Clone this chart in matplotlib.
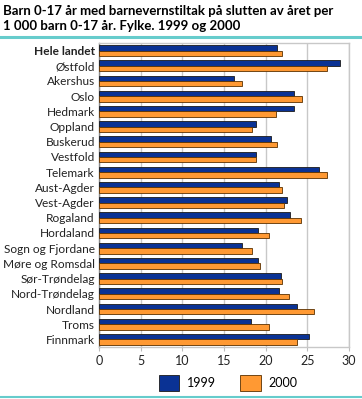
import matplotlib
matplotlib.use("Agg")
import matplotlib.pyplot as plt
from matplotlib.lines import Line2D
from matplotlib.patches import Patch
import numpy as np

plt.rcParams['font.family'] = ['Lato', 'DejaVu Sans']

categories = ["Hele landet", "Østfold", "Akershus", "Oslo", "Hedmark", "Oppland",
              "Buskerud", "Vestfold", "Telemark", "Aust-Agder", "Vest-Agder",
              "Rogaland", "Hordaland", "Sogn og Fjordane", "Møre og Romsdal",
              "Sør-Trøndelag", "Nord-Trøndelag", "Nordland", "Troms", "Finnmark"]
v1999 = [21.3, 28.9, 16.2, 23.4, 23.4, 18.8, 20.6, 18.8, 26.4, 21.6, 22.6,
         22.9, 19.1, 17.2, 19.1, 21.8, 21.6, 23.7, 18.2, 25.2]
v2000 = [21.9, 27.4, 17.2, 24.4, 21.2, 18.4, 21.4, 18.8, 27.4, 21.9, 22.2,
         24.2, 20.4, 18.3, 19.3, 21.9, 22.8, 25.8, 20.4, 23.8]
series_labels = ["1999", "2000"]
xticks = [0, 5, 10, 15, 20, 25, 30]

c1999 = "#0a3294"
c2000 = "#ff9933"

fig = plt.figure(figsize=(3.62, 3.99), dpi=100)
ax = fig.add_axes([99/362, 1 - 347/399, 250/362, (347-43)/399])

y = np.arange(len(categories))
h = 0.36
ax.barh(y - h/2, v1999, height=h, color=c1999, edgecolor="#1a1a1a", linewidth=0.6, zorder=3)
ax.barh(y + h/2, v2000, height=h, color=c2000, edgecolor="#5a3000", linewidth=0.6, zorder=3)

ax.set_ylim(len(categories) - 0.5, -0.5)
ax.set_xlim(0, 30)
ax.set_xticks(xticks)
ax.set_xticklabels([str(t) for t in xticks], fontsize=9, color="#222222")
ax.set_yticks(y)
ax.set_yticklabels(categories, fontsize=8.6, color="#222222")
ax.get_yticklabels()[0].set_fontweight("bold")
ax.tick_params(axis="y", length=0, pad=3)
ax.tick_params(axis="x", length=3, color="#bbbbbb", pad=3)
ax.grid(axis="x", color="#c8c8c8", linewidth=1, zorder=0)
for s in ax.spines.values():
    s.set_color("#c8c8c8")
    s.set_linewidth(1)
ax.spines["left"].set_color("#888888")

fig.text(3/362, 1 - 11/399, "Barn 0-17 år med barnevernstiltak på slutten av året per",
         fontsize=9.5, fontweight="bold", va="center", ha="left")
fig.text(3/362, 1 - 26/399, "1 000 barn 0-17 år. Fylke. 1999 og 2000",
         fontsize=9.5, fontweight="bold", va="center", ha="left")
fig.add_artist(Line2D([0, 1], [1 - 37/399, 1 - 37/399], color="#66cccc", linewidth=2.2))
fig.add_artist(Line2D([0, 1], [1 - 397/399, 1 - 397/399], color="#66cccc", linewidth=1.5))

handles = [Patch(facecolor=c1999, edgecolor="#1a1a1a", linewidth=0.6),
           Patch(facecolor=c2000, edgecolor="#5a3000", linewidth=0.6)]
fig.legend(handles, series_labels, loc="center", bbox_to_anchor=(228/362, 1 - 383/399),
           ncol=2, frameon=False, fontsize=9, handlelength=1.6, handleheight=1.6,
           columnspacing=2.0, handletextpad=0.6)

fig.savefig("out.png", dpi=100)
